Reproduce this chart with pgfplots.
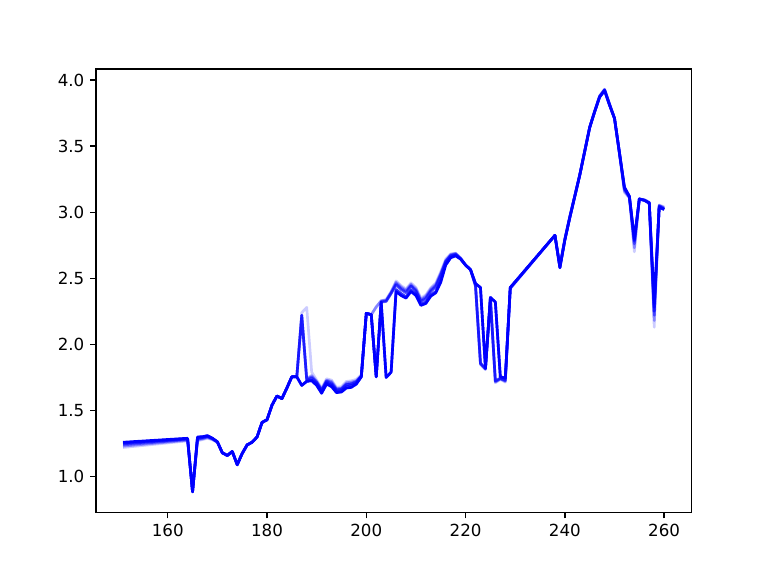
\documentclass[border=0pt]{standalone}
\usepackage{fontspec}
\setmainfont{DejaVu Sans}
\usepackage{pgfplots}
\usepackage{pgfplotstable}
\pgfplotsset{compat=1.18}

% one column per run, k0 = faintest, k5 = latest (solid)
\pgfplotstableread{
x    k0    k1    k2    k3    k4    k5
151  1.220 1.230 1.240 1.248 1.255 1.260
164  1.270 1.275 1.280 1.285 1.288 1.290
165  0.885 0.885 0.885 0.885 0.885 0.885
166  1.270 1.278 1.285 1.290 1.297 1.300
167  1.280 1.285 1.290 1.295 1.300 1.302
168  1.290 1.295 1.300 1.305 1.308 1.310
169  1.278 1.282 1.285 1.288 1.290 1.290
170  1.258 1.260 1.262 1.263 1.263 1.263
171  1.180 1.180 1.180 1.180 1.180 1.180
172  1.160 1.160 1.160 1.160 1.160 1.160
173  1.190 1.190 1.190 1.190 1.190 1.190
174  1.090 1.090 1.090 1.090 1.090 1.090
175  1.175 1.175 1.175 1.175 1.175 1.175
176  1.240 1.240 1.240 1.240 1.240 1.240
177  1.260 1.260 1.260 1.260 1.260 1.260
178  1.300 1.300 1.300 1.300 1.300 1.300
179  1.410 1.410 1.410 1.410 1.410 1.410
180  1.430 1.430 1.430 1.430 1.430 1.430
181  1.540 1.540 1.540 1.540 1.540 1.540
182  1.610 1.610 1.610 1.610 1.610 1.610
183  1.590 1.590 1.590 1.590 1.590 1.590
184  1.670 1.670 1.670 1.670 1.670 1.670
185  1.755 1.755 1.755 1.755 1.755 1.755
186  1.755 1.755 1.755 1.755 1.755 1.755
187  2.240 2.220 2.220 2.220 1.690 1.690
188  2.280 1.740 1.735 1.730 1.722 1.720
189  1.790 1.765 1.755 1.745 1.730 1.725
190  1.730 1.720 1.715 1.710 1.700 1.690
191  1.670 1.660 1.655 1.650 1.640 1.630
192  1.740 1.730 1.725 1.720 1.710 1.700
193  1.730 1.720 1.710 1.700 1.690 1.680
194  1.675 1.665 1.660 1.655 1.645 1.635
195  1.680 1.670 1.665 1.660 1.650 1.640
196  1.720 1.710 1.700 1.695 1.680 1.670
197  1.725 1.715 1.705 1.700 1.690 1.675
198  1.735 1.725 1.720 1.715 1.705 1.700
199  1.770 1.765 1.760 1.760 1.757 1.755
200  2.235 2.235 2.235 2.235 2.235 2.235
201  2.225 2.225 2.225 2.225 2.225 2.225
202  2.280 2.285 1.755 1.755 1.755 1.755
203  2.330 2.330 2.325 2.320 2.320 2.320
204  2.340 2.335 2.330 2.325 1.750 1.750
205  2.400 2.395 2.390 2.385 1.790 1.790
206  2.480 2.470 2.460 2.450 2.415 2.400
207  2.445 2.435 2.425 2.415 2.385 2.370
208  2.420 2.410 2.400 2.390 2.360 2.350
209  2.465 2.455 2.445 2.440 2.410 2.400
210  2.430 2.420 2.410 2.400 2.380 2.370
211  2.350 2.340 2.330 2.325 2.305 2.295
212  2.375 2.365 2.355 2.345 2.320 2.310
213  2.430 2.420 2.410 2.400 2.375 2.365
214  2.465 2.455 2.445 2.435 2.400 2.390
215  2.550 2.540 2.530 2.520 2.485 2.470
216  2.645 2.635 2.630 2.625 2.610 2.600
217  2.685 2.680 2.675 2.670 2.660 2.655
218  2.690 2.688 2.685 2.680 2.675 2.670
219  2.655 2.652 2.650 2.648 2.646 2.645
220  2.600 2.600 2.600 2.600 2.600 2.600
221  2.565 2.565 2.565 2.565 2.565 2.565
222  2.440 2.440 2.445 2.450 2.460 2.460
223  1.850 1.850 1.855 1.860 2.430 2.430
224  1.810 1.812 1.815 1.818 1.820 1.820
225  2.340 2.342 2.345 2.350 2.355 2.355
226  1.710 1.715 1.720 1.725 2.320 2.320
227  1.735 1.740 1.740 1.745 1.755 1.755
228  1.715 1.720 1.725 1.730 1.745 1.745
229  2.420 2.425 2.425 2.430 2.430 2.430
238  2.825 2.825 2.825 2.825 2.825 2.825
239  2.600 2.595 2.590 2.585 2.580 2.580
240  2.800 2.798 2.795 2.792 2.790 2.790
241  2.970 2.968 2.965 2.962 2.960 2.960
242  3.125 3.123 3.122 3.121 3.120 3.120
243  3.285 3.283 3.282 3.281 3.280 3.280
244  3.465 3.463 3.462 3.461 3.460 3.460
245  3.645 3.643 3.642 3.641 3.640 3.640
246  3.765 3.763 3.762 3.761 3.760 3.760
247  3.880 3.880 3.875 3.875 3.870 3.870
248  3.930 3.930 3.925 3.925 3.920 3.920
249  3.820 3.820 3.815 3.815 3.810 3.810
250  3.710 3.710 3.710 3.710 3.710 3.710
251  3.440 3.442 3.445 3.447 3.450 3.450
252  3.150 3.160 3.170 3.180 3.185 3.190
253  3.110 3.110 3.115 3.115 3.120 3.120
254  2.700 2.730 2.760 2.780 2.790 2.800
255  3.100 3.100 3.100 3.100 3.100 3.100
256  3.095 3.095 3.090 3.090 3.090 3.090
257  3.075 3.075 3.070 3.070 3.070 3.070
258  2.130 2.180 2.220 2.250 2.280 2.310
259  3.055 3.050 3.050 3.045 3.040 3.040
260  3.040 3.035 3.030 3.025 3.020 3.020
}\runs

\begin{document}
\begin{tikzpicture}
\path[use as bounding box] (0,0) rectangle (460.8pt,345.6pt);
\begin{axis}[
  at={(57.6pt,38.02pt)}, anchor=south west,
  scale only axis,
  width=357.12pt, height=266.11pt,
  xmin=145.55, xmax=265.45,
  ymin=0.7275, ymax=4.0825,
  xtick={160,180,200,220,240,260},
  ytick={1,1.5,2,2.5,3,3.5,4},
  yticklabel style={/pgf/number format/.cd,fixed,fixed zerofill,precision=1},
  /pgf/number format/assume math mode=true,
  tick label style={font=\fontsize{10}{12}\selectfont},
  tick align=outside,
  tick pos=left,
  major tick length=3.5pt,
  every tick/.style={black, line width=0.8pt},
  axis line style={line width=0.8pt},
  every axis plot/.append style={line width=1.6pt, line join=round},
]
\addplot[blue, opacity=0.2]  table[x=x, y=k0] {\runs};
\addplot[blue, opacity=0.35] table[x=x, y=k1] {\runs};
\addplot[blue, opacity=0.5]  table[x=x, y=k2] {\runs};
\addplot[blue, opacity=0.65] table[x=x, y=k3] {\runs};
\addplot[blue, opacity=0.8]  table[x=x, y=k4] {\runs};
\addplot[blue]               table[x=x, y=k5] {\runs};
\end{axis}
\end{tikzpicture}
\end{document}
